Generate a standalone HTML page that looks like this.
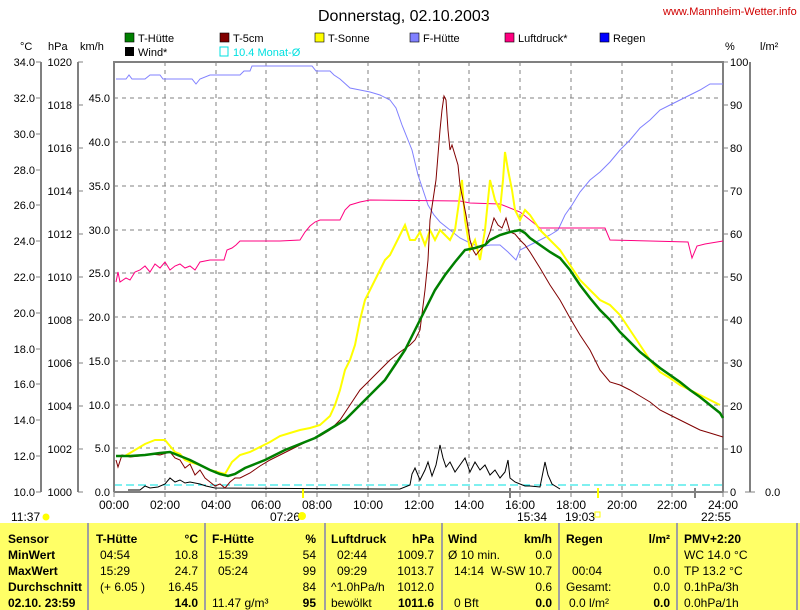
<!DOCTYPE html>
<html><head><meta charset="utf-8"><style>
body{margin:0;background:#fff;width:800px;height:610px;overflow:hidden;font-family:"Liberation Sans",sans-serif}
svg{display:block}
</style></head><body>
<svg width="800" height="610" viewBox="0 0 800 610" xmlns="http://www.w3.org/2000/svg" font-family="Liberation Sans, sans-serif" font-size="12">
<rect width="800" height="610" fill="#fff"/>
<text x="318" y="21" font-size="16">Donnerstag, 02.10.2003</text>
<text x="663" y="15" font-size="11" fill="#d00000">www.Mannheim-Wetter.info</text>
<g font-size="11">
<rect x="125" y="33" width="9" height="9" fill="#008000" stroke="#000" stroke-width=".6"/><text x="138" y="42">T-Hütte</text>
<rect x="220" y="33" width="9" height="9" fill="#800000" stroke="#000" stroke-width=".6"/><text x="233" y="42">T-5cm</text>
<rect x="315" y="33" width="9" height="9" fill="#ffff00" stroke="#000" stroke-width=".6"/><text x="328" y="42">T-Sonne</text>
<rect x="410" y="33" width="9" height="9" fill="#8080ff" stroke="#000" stroke-width=".6"/><text x="423" y="42">F-Hütte</text>
<rect x="505" y="33" width="9" height="9" fill="#ff0080" stroke="#000" stroke-width=".6"/><text x="518" y="42">Luftdruck*</text>
<rect x="600" y="33" width="9" height="9" fill="#0000ff" stroke="#000" stroke-width=".6"/><text x="613" y="42">Regen</text>
<rect x="125" y="47" width="9" height="9" fill="#000"/><text x="138" y="56">Wind*</text>
<rect x="220" y="47" width="8" height="9" fill="none" stroke="#00e0e0"/><text x="233" y="56" fill="#00e0e0">10.4 Monat-Ø</text>
</g>
<g font-size="11">
<text x="20" y="50">°C</text><text x="48" y="50">hPa</text><text x="80" y="50">km/h</text>
<text x="725" y="50">%</text><text x="760" y="50">l/m²</text>
</g>
<g stroke="#808080" stroke-width="2" fill="none">
<line x1="41" y1="62" x2="41" y2="492"/>
<line x1="78" y1="62" x2="78" y2="492"/>
<line x1="750" y1="62" x2="750" y2="492"/>
</g>
<g font-size="11" text-anchor="end">
<text x="35" y="66">34.0</text><text x="35" y="102">32.0</text><text x="35" y="138">30.0</text><text x="35" y="174">28.0</text><text x="35" y="209">26.0</text><text x="35" y="245">24.0</text><text x="35" y="281">22.0</text><text x="35" y="317">20.0</text><text x="35" y="353">18.0</text><text x="35" y="388">16.0</text><text x="35" y="424">14.0</text><text x="35" y="460">12.0</text><text x="35" y="496">10.0</text>
<text x="72" y="66">1020</text><text x="72" y="109">1018</text><text x="72" y="152">1016</text><text x="72" y="195">1014</text><text x="72" y="238">1012</text><text x="72" y="281">1010</text><text x="72" y="324">1008</text><text x="72" y="367">1006</text><text x="72" y="410">1004</text><text x="72" y="453">1002</text><text x="72" y="496">1000</text>
<text x="110" y="102">45.0</text><text x="110" y="146">40.0</text><text x="110" y="190">35.0</text><text x="110" y="234">30.0</text><text x="110" y="277">25.0</text><text x="110" y="321">20.0</text><text x="110" y="365">15.0</text><text x="110" y="409">10.0</text><text x="110" y="452">5.0</text><text x="110" y="496">0.0</text>
</g>
<g stroke="#808080" stroke-width="1">
<path d="M36 62h5M36 98h5M36 134h5M36 170h5M36 205h5M36 241h5M36 277h5M36 313h5M36 349h5M36 384h5M36 420h5M36 456h5M36 492h5"/>
<path d="M78 62h5M78 105h5M78 148h5M78 191h5M78 234h5M78 277h5M78 320h5M78 363h5M78 406h5M78 449h5M78 492h5"/>
<path d="M723 62h5M723 105h5M723 148h5M723 191h5M723 234h5M723 277h5M723 320h5M723 363h5M723 406h5M723 449h5M723 492h5"/>
<path d="M745 492h10"/>
</g>
<g font-size="11">
<text x="730" y="66">100</text><text x="730" y="109">90</text><text x="730" y="152">80</text><text x="730" y="195">70</text><text x="730" y="238">60</text><text x="730" y="281">50</text><text x="730" y="324">40</text><text x="730" y="367">30</text><text x="730" y="410">20</text><text x="730" y="453">10</text><text x="730" y="496">0</text>
<text x="765" y="496">0.0</text>
</g>
<g stroke="#808080" stroke-dasharray="4,4" stroke-width="1">
<path d="M165 62v430M216 62v430M266 62v430M317 62v430M368 62v430M419 62v430M469 62v430M520 62v430M571 62v430M622 62v430M672 62v430"/>
<path d="M114 98h609M114 142h609M114 186h609M114 230h609M114 273h609M114 317h609M114 361h609M114 405h609M114 448h609"/>
</g>
<line x1="114" y1="485" x2="723" y2="485" stroke="#00e0e0" stroke-dasharray="8,4"/>
<path d="M114 492V62H723V492" fill="none" stroke="#808080" stroke-width="2"/>
<line x1="114" y1="492" x2="723" y2="492" stroke="#808080" stroke-width="2"/>
<g stroke="#808080" stroke-width="1"><path d="M114 492v5M165 492v5M216 492v5M266 492v5M317 492v5M368 492v5M419 492v5M469 492v5M520 492v5M571 492v5M622 492v5M672 492v5M723 492v5"/></g>
<g stroke="#808080" stroke-width="2"><path d="M510 488v10M695 488v10"/></g>
<g stroke="#ffff00" stroke-width="2"><path d="M303 488v10M598 488v10"/></g>
<g font-size="12" text-anchor="middle">
<text x="114" y="509">00:00</text><text x="165" y="509">02:00</text><text x="216" y="509">04:00</text><text x="266" y="509">06:00</text><text x="317" y="509">08:00</text><text x="368" y="509">10:00</text><text x="419" y="509">12:00</text><text x="469" y="509">14:00</text><text x="520" y="509">16:00</text><text x="571" y="509">18:00</text><text x="622" y="509">20:00</text><text x="672" y="509">22:00</text><text x="723" y="509">24:00</text>
</g>
<g font-size="12"><text x="11" y="521">11:37</text><text x="270" y="521">07:26</text><text x="517" y="521">15:34</text><text x="565" y="521">19:03</text><text x="701" y="521">22:55</text></g>
<circle cx="46" cy="517" r="3.5" fill="#ffff00"/><circle cx="302" cy="516" r="4" fill="#ffff00"/>
<rect x="595" y="512" width="5" height="5" fill="none" stroke="#ffff00"/>
<polyline fill="none" stroke="#8080ff" stroke-width="1" points="116,79 126,79 129,75 132,79 145,79 150,75 160,75 163,79 192,79 196,84 200,79 210,75 240,75 244,71 250,71 252,66 312,66 316,71 330,71 334,75 340,79 350,88 360,90 370,92 380,95 390,100 396,108 402,125 408,140 412,150 418,175 423,190 428,205 434,215 440,222 450,230 460,238 470,243 480,247 490,245 500,245 508,252 516,260 520,250 530,245 540,240 550,235 558,230 565,215 572,205 580,192 590,180 600,172 610,162 620,150 630,140 640,128 650,120 660,110 670,105 680,100 690,95 700,90 710,84 723,84"/>
<polyline fill="none" stroke="#ff0080" stroke-width="1" points="116,282 118,272 120,282 126,278 130,280 135,272 140,270 145,266 150,272 155,264 160,268 165,262 170,270 175,266 180,264 185,268 190,266 195,270 200,262 210,260 224,260 227,250 232,248 236,245 240,241 280,241 300,240 305,232 310,226 315,222 320,220 340,220 345,210 350,205 360,202 370,200 460,201 470,203 500,204 520,212 540,228 580,228 605,228 610,240 650,241 688,242 692,258 697,246 705,244 723,241"/>
<polyline fill="none" stroke="#000" stroke-width="1" points="128,490 140,490 145,486 150,488 158,487 165,484 170,478 175,482 180,480 185,483 190,482 200,484 206,486 215,488 380,489 400,489 410,485 412,474 415,468 420,480 425,470 428,462 432,476 436,465 440,445 443,458 446,467 450,462 455,472 460,465 465,458 470,472 475,462 480,470 485,465 490,475 495,470 500,478 505,472 508,460 510,478 515,482 520,484 525,486 530,486 540,487 545,462 548,475 552,484 560,489"/>
<polyline fill="none" stroke="#ffff00" stroke-width="2" points="116,456 125,456 135,450 145,444 155,440 165,440 170,446 175,452 180,454 185,460 190,462 200,465 210,470 225,474 232,462 240,455 250,452 260,447 270,442 280,436 290,433 300,430 310,428 320,425 330,416 335,405 340,390 345,370 350,360 355,345 360,320 365,300 370,290 375,280 380,270 385,260 390,255 395,245 400,235 405,225 410,240 415,240 420,232 425,245 430,230 435,240 440,230 445,235 450,240 455,230 460,195 462,180 465,220 470,250 475,240 480,260 485,230 490,180 495,200 500,210 503,180 505,152 508,170 512,190 515,210 520,220 525,210 530,215 540,230 550,240 560,250 570,265 580,280 590,290 600,300 610,305 620,315 630,330 640,345 650,360 660,372 670,378 680,385 690,390 700,395 710,400 720,405"/>
<polyline fill="none" stroke="#800000" stroke-width="1" points="116,460 118,467 122,455 130,457 140,456 150,454 160,455 170,452 175,458 180,460 185,468 190,464 195,475 200,470 205,478 210,482 215,486 220,484 225,488 230,482 235,478 240,478 250,473 260,466 270,460 280,455 290,450 300,445 310,440 320,436 330,430 340,420 350,405 360,390 370,380 380,370 390,360 400,352 410,345 415,340 420,330 425,290 428,260 430,220 433,200 436,180 438,155 440,130 442,110 444,96 446,100 448,130 450,150 452,145 455,155 458,165 460,185 463,200 466,215 470,240 473,250 476,255 480,250 485,245 490,232 494,218 498,225 502,228 506,218 510,232 515,234 520,240 525,245 530,252 540,268 550,285 560,300 570,318 580,335 590,350 600,370 610,382 620,385 630,390 640,396 650,402 660,410 670,415 680,420 690,425 700,430 710,433 723,437"/>
<polyline fill="none" stroke="#008000" stroke-width="2.5" points="116,456 130,456 145,455 160,453 170,452 180,456 190,460 200,465 210,470 220,474 228,476 235,474 245,468 255,464 265,460 275,455 285,450 295,446 305,442 315,438 325,432 335,426 345,420 355,410 365,400 375,390 385,380 395,365 405,350 415,330 425,310 435,290 445,275 455,262 465,250 475,248 485,245 490,240 500,235 510,232 520,230 525,233 530,238 540,245 550,252 560,258 570,270 580,285 590,298 600,310 610,320 620,332 630,342 640,352 650,360 660,368 670,375 680,382 690,390 700,397 710,405 720,413 723,418"/>
<rect x="0" y="523" width="800" height="87" fill="#ffff66"/>
<g stroke="#a0a0a0" stroke-width="2"><path d="M88 523v87M205 523v87M325 523v87M442 523v87M559 523v87M677 523v87M797 523v87"/></g>
<g font-size="12">
<g font-weight="bold"><text x="8" y="543">Sensor</text><text x="8" y="559">MinWert</text><text x="8" y="575">MaxWert</text><text x="8" y="591">Durchschnitt</text><text x="8" y="607">02.10. 23:59</text>
<text x="96" y="543">T-Hütte</text><text x="212" y="543">F-Hütte</text><text x="331" y="543">Luftdruck</text><text x="448" y="543">Wind</text><text x="566" y="543">Regen</text><text x="684" y="543">PMV+2:20</text></g>
<text x="100" y="559">04:54</text><text x="100" y="575">15:29</text><text x="100" y="591">(+ 6.05 )</text>
<text x="218" y="559">15:39</text><text x="218" y="575">05:24</text><text x="212" y="607">11.47 g/m³</text>
<text x="337" y="559">02:44</text><text x="337" y="575">09:29</text><text x="331" y="591">^1.0hPa/h</text><text x="331" y="607">bewölkt</text>
<text x="448" y="559">Ø 10 min.</text><text x="454" y="575">14:14</text><text x="454" y="607">0 Bft</text>
<text x="572" y="575">00:04</text><text x="566" y="591">Gesamt:</text><text x="569" y="607">0.0 l/m²</text>
<text x="684" y="559">WC 14.0 °C</text><text x="684" y="575">TP 13.2 °C</text><text x="684" y="591">0.1hPa/3h</text><text x="684" y="607">0.0hPa/1h</text>
<g text-anchor="end">
<text x="198" y="543" font-weight="bold">°C</text><text x="198" y="559">10.8</text><text x="198" y="575">24.7</text><text x="198" y="591">16.45</text><text x="198" y="607" font-weight="bold">14.0</text>
<text x="316" y="543" font-weight="bold">%</text><text x="316" y="559">54</text><text x="316" y="575">99</text><text x="316" y="591">84</text><text x="316" y="607" font-weight="bold">95</text>
<text x="434" y="543" font-weight="bold">hPa</text><text x="434" y="559">1009.7</text><text x="434" y="575">1013.7</text><text x="434" y="591">1012.0</text><text x="434" y="607" font-weight="bold">1011.6</text>
<text x="552" y="543" font-weight="bold">km/h</text><text x="552" y="559">0.0</text><text x="552" y="575">W-SW 10.7</text><text x="552" y="591">0.6</text><text x="552" y="607" font-weight="bold">0.0</text>
<text x="670" y="543" font-weight="bold">l/m²</text><text x="670" y="575">0.0</text><text x="670" y="591">0.0</text><text x="670" y="607" font-weight="bold">0.0</text>
</g></g>
</svg>
</body></html>
